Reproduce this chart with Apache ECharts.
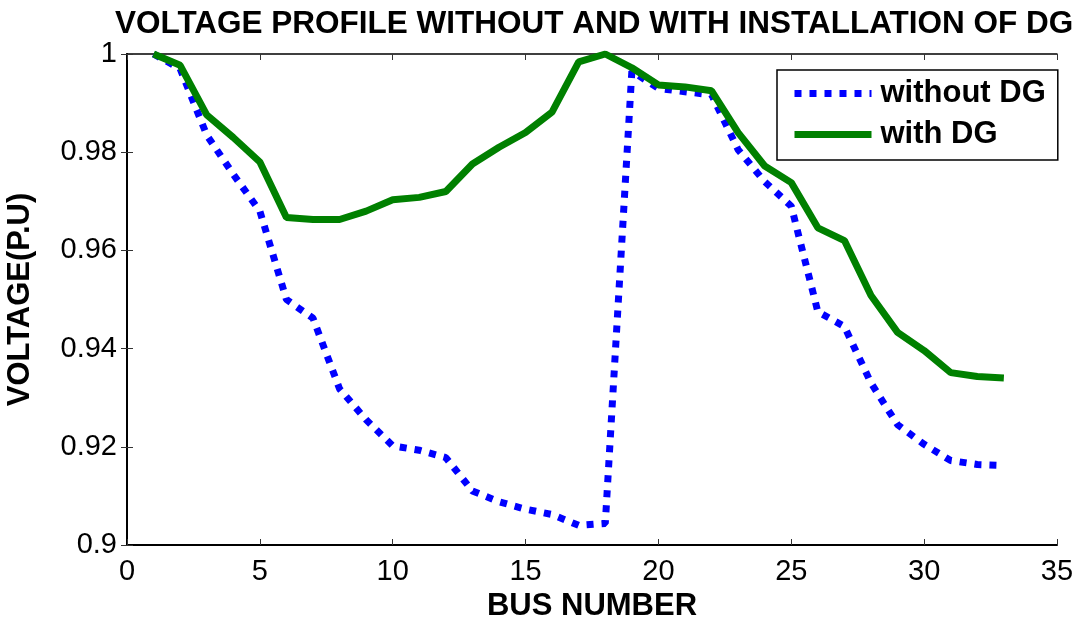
<!DOCTYPE html>
<html>
<head>
<meta charset="utf-8">
<script src="https://cdn.jsdelivr.net/npm/echarts@6/dist/echarts.min.js"></script>
<style>
  html, body { margin: 0; padding: 0; background: #fff; }
  #chart { width: 1084px; height: 623px; }
</style>
</head>
<body>
<div id="chart"></div>
<script>
// bus numbers and voltages
var busNumbers = [1, 2, 3, 4, 5, 6, 7, 8, 9, 10, 11, 12, 13, 14, 15, 16, 17,
                  18, 19, 20, 21, 22, 23, 24, 25, 26, 27, 28, 29, 30, 31, 32, 33];
var withoutDG = [1.0, 0.997, 0.9835, 0.9755, 0.968, 0.950, 0.9462, 0.9318, 0.9255, 0.9202, 0.9193,
                 0.9178, 0.911, 0.9088, 0.9073, 0.9062, 0.904, 0.9044, 0.9965, 0.993, 0.9923, 0.9917,
                 0.9805, 0.974, 0.969, 0.9475, 0.9445, 0.933, 0.9245, 0.9205, 0.9172, 0.9164, 0.9162];
var withDG = [1.0, 0.9977, 0.9876, 0.983, 0.978, 0.9667, 0.9663, 0.9663, 0.968, 0.9703, 0.9708,
              0.972, 0.9776, 0.981, 0.984, 0.9882, 0.9984, 1.0, 0.9972, 0.9937, 0.9933, 0.9925,
              0.984, 0.9772, 0.9738, 0.9646, 0.962, 0.9508, 0.9433, 0.9396, 0.9351, 0.9343, 0.934];

function pairs(xs, ys) {
    return xs.map(function (x, i) { return [x, ys[i]]; });
}

var font = "'Liberation Sans', Arial, sans-serif";
var chart = echarts.init(document.getElementById('chart'));

var tick = { show: true, inside: true, length: 6, lineStyle: { color: '#333', width: 1 } };

chart.setOption({
    animation: false,
    backgroundColor: '#fff',
    title: {
        text: 'VOLTAGE PROFILE WITHOUT AND WITH INSTALLATION OF DG',
        left: 110,
        top: 3,
        textStyle: { fontFamily: font, fontSize: 31.5, fontWeight: 'bold', color: '#000' }
    },
    grid: { left: 127, right: 27, top: 54, bottom: 78, outerBoundsMode: 'none', containLabel: false },
    legend: {
        orient: 'vertical',
        left: 777,
        top: 70,
        padding: [8, 12, 10, 14],
        itemWidth: 77,
        itemHeight: 14,
        itemGap: 10,
        borderColor: '#000',
        borderWidth: 1.5,
        backgroundColor: '#fff',
        itemStyle: { opacity: 0 },
        lineStyle: { width: 7 },
        textStyle: { fontFamily: font, fontSize: 31, fontWeight: 'bold', color: '#000',
                     lineHeight: 30, padding: [0, 0, 0, 4] },
        data: ['without DG', 'with DG']
    },
    xAxis: [{
        type: 'value',
        min: 0, max: 35, interval: 5,
        name: 'BUS NUMBER',
        nameLocation: 'middle',
        nameGap: 36,
        nameTextStyle: { fontFamily: font, fontSize: 31, fontWeight: 'bold', color: '#000' },
        axisLine: { show: true, onZero: false, lineStyle: { color: '#000', width: 2 } },
        axisTick: tick,
        axisLabel: { fontFamily: font, fontSize: 29, color: '#000', margin: 12 },
        splitLine: { show: false }
    }, {
        type: 'value',
        position: 'top',
        min: 0, max: 35, interval: 5,
        axisLine: { show: true, lineStyle: { color: '#000', width: 1.5 } },
        axisTick: tick,
        axisLabel: { show: false },
        splitLine: { show: false }
    }],
    yAxis: [{
        type: 'value',
        min: 0.9, max: 1, interval: 0.02,
        name: 'VOLTAGE(P.U)',
        nameLocation: 'middle',
        nameGap: 91,
        nameTextStyle: { fontFamily: font, fontSize: 31, fontWeight: 'bold', color: '#000' },
        axisLine: { show: true, onZero: false, lineStyle: { color: '#000', width: 2 } },
        axisTick: tick,
        axisLabel: { fontFamily: font, fontSize: 29, color: '#000', margin: 10 },
        splitLine: { show: false }
    }, {
        type: 'value',
        position: 'right',
        min: 0.9, max: 1, interval: 0.02,
        axisLine: { show: true, lineStyle: { color: '#000', width: 1.5 } },
        axisTick: tick,
        axisLabel: { show: false },
        splitLine: { show: false }
    }],
    series: [{
        name: 'without DG',
        type: 'line',
        data: pairs(busNumbers, withoutDG),
        symbol: 'none',
        clip: false,
        itemStyle: { color: '#0000ff' },
        lineStyle: { color: '#0000ff', width: 7, type: [7, 8], cap: 'butt' }
    }, {
        name: 'with DG',
        type: 'line',
        data: pairs(busNumbers, withDG),
        symbol: 'none',
        clip: false,
        itemStyle: { color: '#008000' },
        lineStyle: { color: '#008000', width: 7 }
    }]
});
</script>
</body>
</html>
